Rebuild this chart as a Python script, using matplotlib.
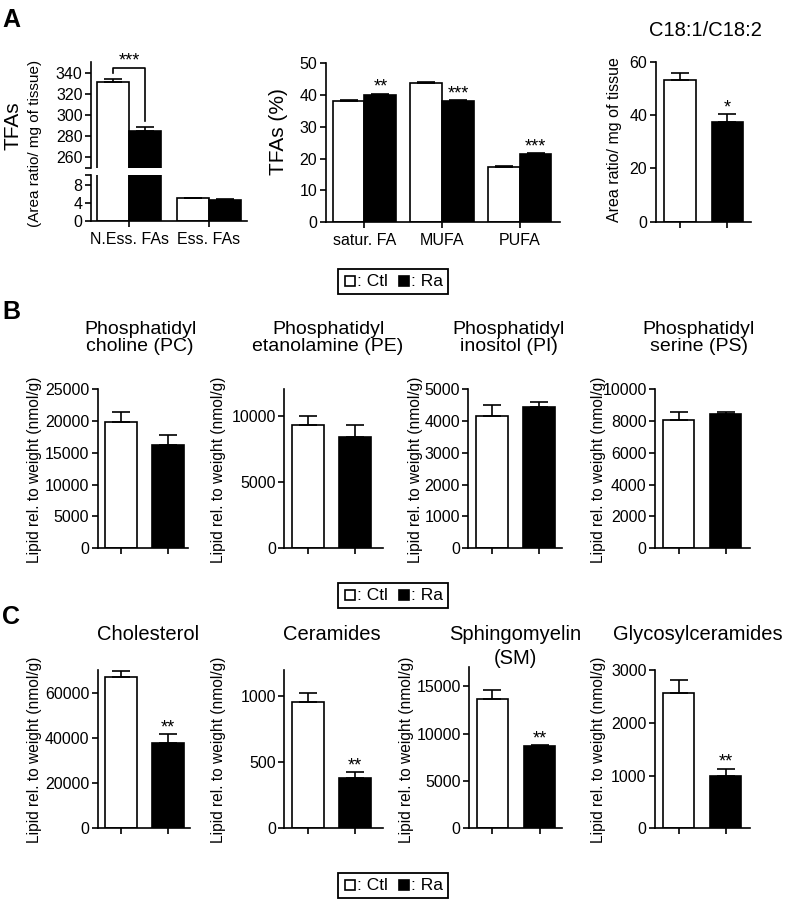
import matplotlib.pyplot as plt
from matplotlib.patches import Rectangle

plt.rcParams['font.family'] = ['Liberation Sans', 'DejaVu Sans']

# ---- Panel A data ----
fa_groups = ["N.Ess. FAs", "Ess. FAs"]
fa_ctl = [331, 5.0]
fa_ctl_err = [2.5, 0.2]
fa_ra = [285, 4.6]
fa_ra_err = [3.5, 0.2]

pct_groups = ["satur. FA", "MUFA", "PUFA"]
pct_ctl = [38.3, 43.9, 17.5]
pct_ctl_err = [0.1, 0.15, 0.1]
pct_ra = [40.1, 38.3, 21.5]
pct_ra_err = [0.3, 0.1, 0.2]
pct_stars = ["**", "***", "***"]

ratio_ctl = 53.2
ratio_ctl_err = 2.4
ratio_ra = 37.5
ratio_ra_err = 2.9

# ---- Panel B data (phospholipids) ----
pl_titles = ["Phosphatidyl\ncholine (PC)", "Phosphatidyl\netanolamine (PE)",
             "Phosphatidyl\ninositol (PI)", "Phosphatidyl\nserine (PS)"]
pl_ctl = [19900, 9300, 4150, 8100]
pl_ctl_err = [1600, 700, 370, 500]
pl_ra = [16200, 8400, 4450, 8450]
pl_ra_err = [1600, 900, 160, 130]
pl_ymax = [25000, 12000, 5000, 10000]
pl_yticks = [[0, 5000, 10000, 15000, 20000, 25000], [0, 5000, 10000],
             [0, 1000, 2000, 3000, 4000, 5000], [0, 2000, 4000, 6000, 8000, 10000]]

# ---- Panel C data (sterols / sphingolipids) ----
sl_titles = ["Cholesterol", "Ceramides", "Sphingomyelin\n(SM)", "Glycosylceramides"]
sl_ctl = [66700, 956, 13650, 2565]
sl_ctl_err = [2900, 70, 1000, 250]
sl_ra = [37500, 385, 8700, 1000]
sl_ra_err = [4100, 40, 100, 130]
sl_stars = ["**", "**", "**", "**"]
sl_ymax = [70000, 1200, 17000, 3000]
sl_yticks = [[0, 20000, 40000, 60000], [0, 500, 1000],
             [0, 5000, 10000, 15000], [0, 1000, 2000, 3000]]

W, H = 794, 899
fig = plt.figure(figsize=(W / 100, H / 100), dpi=100)

LW = 1.2
TICK = 11.5


def add_ax(x0, y0, x1, y1):
    return fig.add_axes([x0 / W, 1 - y1 / H, (x1 - x0) / W, (y1 - y0) / H])


def style(ax):
    for s in ("top", "right"):
        ax.spines[s].set_visible(False)
    for s in ("left", "bottom"):
        ax.spines[s].set_linewidth(LW)
    ax.tick_params(direction="out", length=4, width=LW, labelsize=TICK, pad=2)
    ax.tick_params(axis="x", pad=4)


def ftext(x, y, s, **kw):
    fig.text(x / W, 1 - y / H, s, **kw)


def frect(x0, y0, x1, y1, **kw):
    fig.add_artist(Rectangle((x0 / W, 1 - y1 / H), (x1 - x0) / W, (y1 - y0) / H,
                             transform=fig.transFigure, **kw))


def bars(ax, xs, vals, errs, width, face):
    ax.bar(xs, vals, width=width, color=face, edgecolor="black", linewidth=LW, zorder=2)
    ax.errorbar(xs, vals, yerr=[[0] * len(vals), errs], fmt="none", ecolor="black",
                elinewidth=LW, capsize=6.5, capthick=LW, zorder=3)


def star(ax, x, y, s):
    ax.annotate(s, (x, y), xytext=(0, -1.5), textcoords="offset points",
                ha="center", va="bottom", fontsize=13, annotation_clip=False)


def legend_box(yc):
    # boxed key: white square = Ctl, black square = Ra
    frect(338, yc - 12.5, 448, yc + 12.5, fc="white", ec="black", lw=1.3)
    frect(345, yc - 5, 355, yc + 5, fc="white", ec="black", lw=1.2)
    frect(399, yc - 5, 409, yc + 5, fc="black", ec="black", lw=1.2)
    ftext(357, yc, ": Ctl", ha="left", va="center", fontsize=12.5)
    ftext(411, yc, ": Ra", ha="left", va="center", fontsize=12.5)


# ---- A left: broken axis ----
w = 0.4
gx = [0, 1]
ax_up = add_ax(91, 62, 247, 168)
ax_lo = add_ax(91, 175, 247, 221)
for ax in (ax_up, ax_lo):
    style(ax)
    bars(ax, [g - w / 2 for g in gx], fa_ctl, fa_ctl_err, w, "white")
    bars(ax, [g + w / 2 for g in gx], fa_ra, fa_ra_err, w, "black")
    ax.set_xlim(-0.475, 1.475)
ax_up.set_ylim(250, 350)
ax_up.set_yticks([250, 260, 280, 300, 320, 340])
ax_up.set_yticklabels(["", "260", "280", "300", "320", "340"])
ax_up.spines["bottom"].set_visible(False)
ax_up.set_xticks([])
ax_lo.set_ylim(0, 10.2)
ax_lo.set_yticks([0, 4, 8, 10.2])
ax_lo.set_yticklabels(["0", "4", "8", ""])
ax_lo.set_xticks(gx)
ax_lo.set_xticklabels(fa_groups, fontsize=11.5)
# significance bracket
xl, xr = -w / 2, w / 2
ax_up.plot([xl, xl, xr, xr], [339.5, 344.5, 344.5, 294], color="black", lw=LW,
           clip_on=False, zorder=4)
star(ax_up, 0, 344.5, "***")
ftext(13, 126, "TFAs", rotation=90, ha="center", va="center", fontsize=15)
ftext(35, 143, "(Area ratio/ mg of tissue)", rotation=90, ha="center", va="center",
      fontsize=11)

# ---- A middle ----
w = 0.41
ax = add_ax(325.7, 63.3, 560, 222.3)
style(ax)
gx = list(range(len(pct_groups)))
bars(ax, [g - w / 2 for g in gx], pct_ctl, pct_ctl_err, w, "white")
bars(ax, [g + w / 2 for g in gx], pct_ra, pct_ra_err, w, "black")
for g, v, e, s in zip(gx, pct_ra, pct_ra_err, pct_stars):
    star(ax, g + w / 2, v + e, s)
ax.set_xlim(-0.5, 2.52)
ax.set_ylim(0, 50)
ax.set_yticks([0, 10, 20, 30, 40, 50])
ax.set_xticks(gx)
ax.set_xticklabels(pct_groups, fontsize=11.5)
ftext(279, 132, "TFAs (%)", rotation=90, ha="center", va="center", fontsize=15)

# ---- A right ----
w = 0.67
ax = add_ax(655.7, 61.7, 750.7, 221.7)
style(ax)
bars(ax, [0], [ratio_ctl], [ratio_ctl_err], w, "white")
bars(ax, [1], [ratio_ra], [ratio_ra_err], w, "black")
star(ax, 1, ratio_ra + ratio_ra_err, "*")
ax.set_xlim(-0.51, 1.49)
ax.set_ylim(0, 60)
ax.set_yticks([0, 20, 40, 60])
ax.set_xticks([0, 1])
ax.set_xticklabels([])
ftext(615, 140, "Area ratio/ mg of tissue", rotation=90, ha="center", va="center",
      fontsize=11.5)
ftext(705, 30, "C18:1/C18:2", ha="center", va="center", fontsize=14.5)

legend_box(281.5)

# ---- B and C small panels ----
unit = 47.0
b_x = [(97.7, 188.3), (284.3, 383), (468.3, 561.7), (655, 750)]
b_title_x = [140, 328, 509, 699]
b_label_x = [35, 218, 415, 598]
c_x = [(97.7, 190), (284.3, 383), (469, 562), (655, 750)]
c_top = [670, 670, 667.3, 670]
c_title_x = [148, 332, 515, 698]
c_label_x = [35, 218, 407, 598]

ylab = "Lipid rel. to weight (nmol/g)"


def small_panel(x0, x1, y0, y1, ctl, ctl_e, ra, ra_e, ymax, ticks, s=None):
    ax = add_ax(x0, y0, x1, y1)
    style(ax)
    bars(ax, [0], [ctl], [ctl_e], 0.67, "white")
    bars(ax, [1], [ra], [ra_e], 0.67, "black")
    if s:
        star(ax, 1, ra + ra_e, s)
    ax.set_xlim(-0.5, (x1 - x0) / unit - 0.5)
    ax.set_ylim(0, ymax)
    ax.set_yticks(ticks)
    ax.set_xticks([0, 1])
    ax.set_xticklabels([])
    return ax


for i in range(4):
    x0, x1 = b_x[i]
    small_panel(x0, x1, 389.5, 548, pl_ctl[i], pl_ctl_err[i], pl_ra[i],
                pl_ra_err[i], pl_ymax[i], pl_yticks[i])
    ftext(b_title_x[i], 321, pl_titles[i], ha="center", va="top", fontsize=14,
          linespacing=1.02)
    ftext(b_label_x[i], 470, ylab, rotation=90, ha="center", va="center", fontsize=11.2)

legend_box(595)

for i in range(4):
    x0, x1 = c_x[i]
    small_panel(x0, x1, c_top[i], 828.3, sl_ctl[i], sl_ctl_err[i], sl_ra[i],
                sl_ra_err[i], sl_ymax[i], sl_yticks[i], sl_stars[i])
    ftext(c_title_x[i], 625, sl_titles[i], ha="center", va="top", fontsize=14.5,
          linespacing=1.3)
    ftext(c_label_x[i], 750, ylab, rotation=90, ha="center", va="center", fontsize=11.2)

legend_box(885)

# panel letters
ftext(2, 8, "A", ha="left", va="top", fontsize=18, fontweight="bold")
ftext(2, 300, "B", ha="left", va="top", fontsize=18, fontweight="bold")
ftext(2, 605, "C", ha="left", va="top", fontsize=18, fontweight="bold")

fig.savefig("out.png", dpi=100)
